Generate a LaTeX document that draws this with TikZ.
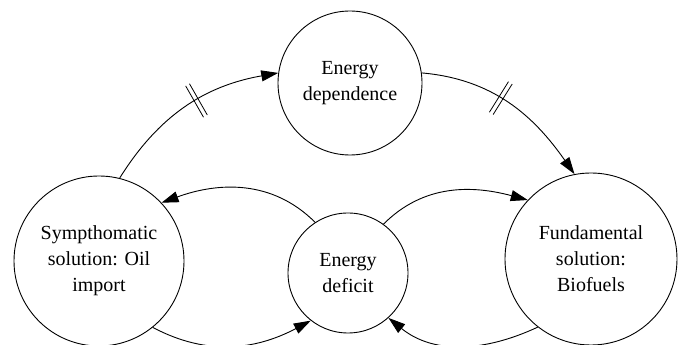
\documentclass[tikz,border=0pt]{standalone}
\usepackage{fontspec}
\setmainfont{Liberation Serif}
\newfontfamily\tnr{Liberation Serif}
\usetikzlibrary{arrows.meta,decorations.markings}
\tikzset{
  blob/.style={circle, draw, line width=0.9pt, inner sep=0pt, align=center,
    font=\tnr\fontsize{20}{26}\selectfont},
  link/.style={line width=0.9pt, -{Triangle[length=17pt,width=11pt]}},
  delayed/.style={postaction={decorate}, decoration={markings,
    mark=at position #1 with {
      \draw[-, line width=0.8pt] (-2.2pt,-18pt) -- (-2.2pt,18pt);
      \draw[-, line width=0.8pt] (2.2pt,-18pt) -- (2.2pt,18pt);}}}
}
\begin{document}
\begin{tikzpicture}[x=1pt,y=1pt]
\useasboundingbox (0,0) rectangle (681,345);
\clip (0,0) rectangle (681,345);
\node[blob, minimum size=144pt] (T) at (350,262) {Energy\\dependence};
\node[blob, minimum size=170pt] (L) at (99,84) {Sympthomatic\\solution: Oil\\import};
\node[blob, minimum size=120pt] (M) at (348,72) {Energy\\deficit};
\node[blob, minimum size=172pt] (R) at (591,86) {Fundamental\\solution:\\Biofuels};
\draw[link, delayed=0.56] (L.76) to[out=58, in=190] (T.172);
\draw[link, delayed=0.44] (T.8) to[out=-5, in=125] (R.101);
\draw[link] (M.123) to[out=135, in=20] (L.43);
\draw[link] (M.54) to[out=45, in=165] (R.137);
\draw[link] (L.-51) to[out=-28, in=208] (M.232);
\draw[link] (R.232) to[out=205, in=-39] (M.-48);
\end{tikzpicture}
\end{document}
